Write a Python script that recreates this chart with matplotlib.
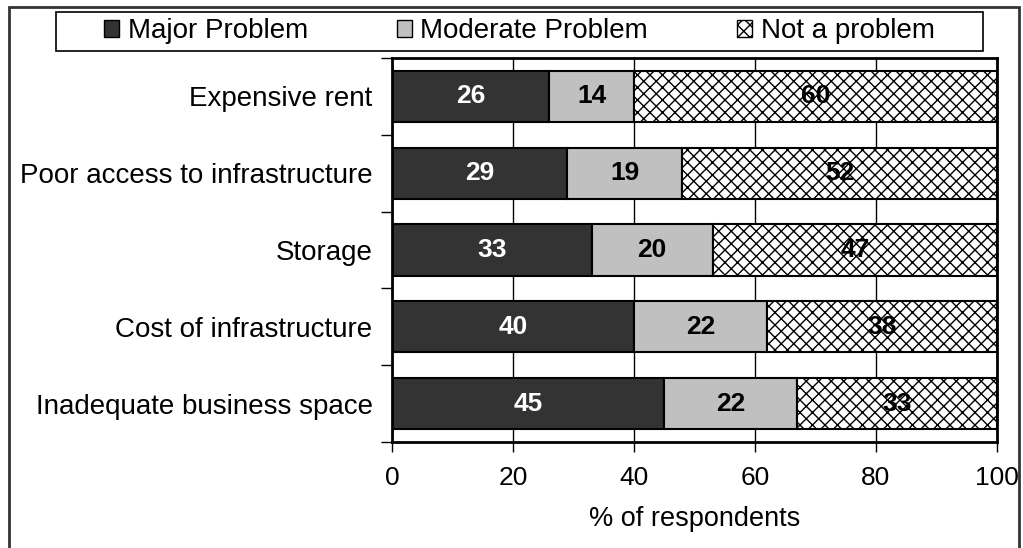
import matplotlib.pyplot as plt
import matplotlib.backend_bases as bb
from matplotlib.patches import Rectangle, Patch
import numpy as np

plt.rcParams['font.family'] = ['Liberation Sans', 'DejaVu Sans']
plt.rcParams['hatch.color'] = '#7a7a7a'
plt.rcParams['hatch.linewidth'] = 1.0

# cross-hatch density between the built-in 'xx' and 'xxx'
_orig_hatch = bb.GraphicsContextBase.get_hatch_path
bb.GraphicsContextBase.get_hatch_path = lambda self, density=6.0: _orig_hatch(self, 16)

# data
categories = ['Expensive rent', 'Poor access to infrastructure', 'Storage',
              'Cost of infrastructure', 'Inadequate business space']
major = [26, 29, 33, 40, 45]
moderate = [14, 19, 20, 22, 22]
not_problem = [60, 52, 47, 38, 33]
series_names = ['Major Problem', 'Moderate Problem', 'Not a problem']

W, H = 1023, 548
fig = plt.figure(figsize=(W / 100, H / 100), dpi=100)
ax = fig.add_axes([392 / W, 1 - 442 / H, 605 / W, 384 / H])

y = np.arange(len(categories))
h = 0.665
ax.barh(y, major, h, color='#333333', edgecolor='black', linewidth=1.5, zorder=3)
ax.barh(y, moderate, h, left=major, color='#c0c0c0', edgecolor='black', linewidth=1.5, zorder=3)
left2 = np.array(major) + np.array(moderate)
ax.barh(y, not_problem, h, left=left2, color='white', edgecolor='black',
        hatch='x', linewidth=1.5, zorder=3)

for i in range(len(categories)):
    ax.text(major[i] / 2, y[i], str(major[i]), ha='center', va='center',
            color='white', fontsize=19, fontweight='bold', zorder=4)
    ax.text(major[i] + moderate[i] / 2, y[i], str(moderate[i]), ha='center',
            va='center', color='black', fontsize=19, fontweight='bold', zorder=4)
    ax.text(left2[i] + not_problem[i] / 2, y[i], str(not_problem[i]), ha='center',
            va='center', color='black', fontsize=19, fontweight='bold', zorder=4)

ax.set_xlim(0, 100)
ax.set_ylim(4.5, -0.5)
ax.set_xticks([0, 20, 40, 60, 80, 100])
ax.tick_params(axis='x', labelsize=19, length=7, width=1, pad=10, direction='out')
ax.set_yticks(y)
ax.set_yticklabels(categories)
ax.tick_params(axis='y', which='major', length=0, labelsize=20, pad=14)
ax.set_yticks(np.arange(-0.5, 5, 1), minor=True)
ax.tick_params(axis='y', which='minor', length=8, width=1)
ax.grid(axis='x', color='black', linewidth=1, zorder=0)
for s in ax.spines.values():
    s.set_linewidth(2)
    s.set_zorder(5)
ax.set_xlabel('% of respondents', fontsize=19.5, labelpad=12)

# legend
handles = [Patch(facecolor='#333333', edgecolor='black'),
           Patch(facecolor='#c0c0c0', edgecolor='black'),
           Patch(facecolor='white', edgecolor='black', hatch='x')]
leg = fig.legend(handles, series_names, loc='center left', ncol=3, fontsize=20,
                 bbox_to_anchor=(104 / W, 1 - 31.5 / H), frameon=False,
                 handlelength=0.55, handleheight=0.55, handletextpad=0.3,
                 columnspacing=3.2, borderpad=0, borderaxespad=0)
fig.patches.append(Rectangle((56 / W, 1 - 51 / H), (983 - 56) / W, 39 / H,
                             transform=fig.transFigure, fill=False,
                             edgecolor='black', linewidth=1.2))

# outer frame
fig.patches.append(Rectangle((9 / W, -0.05), (1019 - 9) / W, 1.05 - 7 / H,
                             transform=fig.transFigure, fill=False,
                             edgecolor='#333333', linewidth=2))

fig.savefig('out.png', dpi=100)
